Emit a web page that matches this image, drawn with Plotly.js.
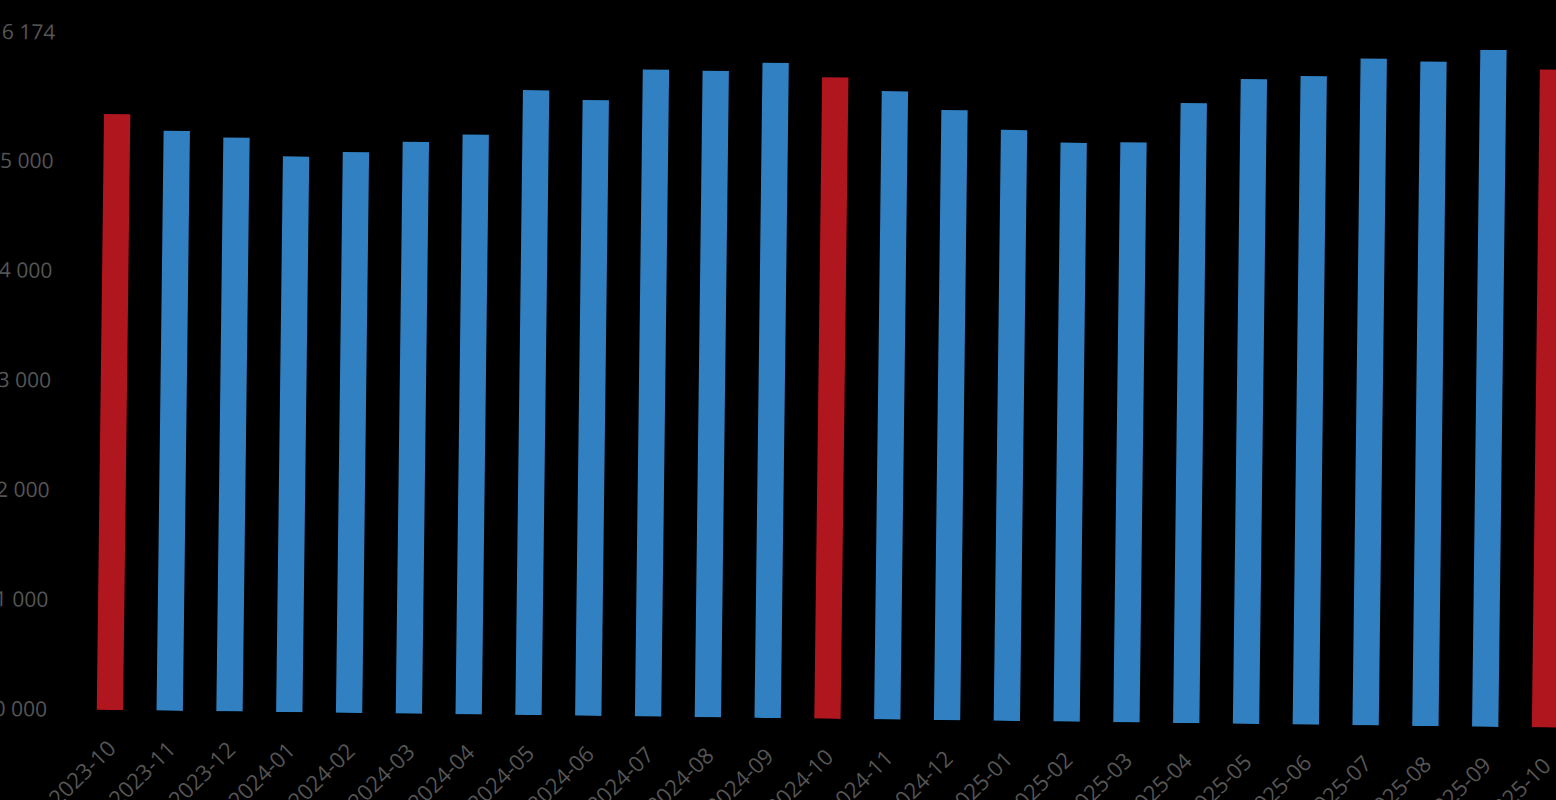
<!DOCTYPE html>
<html>
<head>
<meta charset="utf-8">
<script src="https://cdn.plot.ly/plotly-3.0.1.min.js"></script>
<style>
html, body { margin: 0; padding: 0; background: #000; width: 1556px; height: 800px; overflow: hidden; }
#chart { position: absolute; left: -40px; top: 0px; width: 1700px; height: 900px;
  transform-origin: 150px 710px; transform: rotate(0.7deg); }
</style>
</head>
<body>
<div id="chart"></div>
<script>
const months = ["2023-10","2023-11","2023-12","2024-01","2024-02","2024-03","2024-04","2024-05","2024-06","2024-07","2024-08","2024-09","2024-10","2024-11","2024-12","2025-01","2025-02","2025-03","2025-04","2025-05","2025-06","2025-07","2025-08","2025-09","2025-10"];
const values = [15434,15288,15233,15068,15114,15215,15288,15699,15616,15900,15895,15975,15850,15730,15565,15390,15280,15290,15655,15880,15915,16080,16060,16174,16000];
const highlighted = ["2023-10","2024-10","2025-10"];
const yTickVals = [10000,11000,12000,13000,14000,15000,16174];
const yTickText = ["10 000","11 000","12 000","13 000","14 000","15 000","16 174"];
const baseValue = 10000;

const colors = months.map(m => highlighted.includes(m) ? "#B0161D" : "#3180C2");

const trace = {
  type: "bar",
  x: months,
  y: values.map(v => v - baseValue),
  base: baseValue,
  marker: { color: colors, line: { width: 0 } },
  hoverinfo: "x+y"
};

const layout = {
  paper_bgcolor: "#000",
  plot_bgcolor: "#000",
  showlegend: false,
  bargap: 0.56,
  margin: { l: 120, r: 85, t: 33, b: 190 },
  font: { family: "Open Sans, Noto Sans, sans-serif", color: "#555555", size: 21 },
  xaxis: {
    type: "category",
    range: [-0.5, 24.5],
    tickangle: -45,
    showgrid: false,
    zeroline: false,
    showline: false,
    ticks: "",
    ticklabelstandoff: 20,
    tickfont: { size: 22, color: "#555555" }
  },
  yaxis: {
    range: [10000, 16174],
    tickvals: yTickVals,
    ticktext: yTickText,
    showgrid: false,
    zeroline: false,
    showline: false,
    ticks: "",
    ticklabelstandoff: 32,
    tickfont: { size: 21, color: "#555555" }
  }
};

Plotly.newPlot("chart", [trace], layout, { displayModeBar: false, staticPlot: true });
</script>
</body>
</html>
